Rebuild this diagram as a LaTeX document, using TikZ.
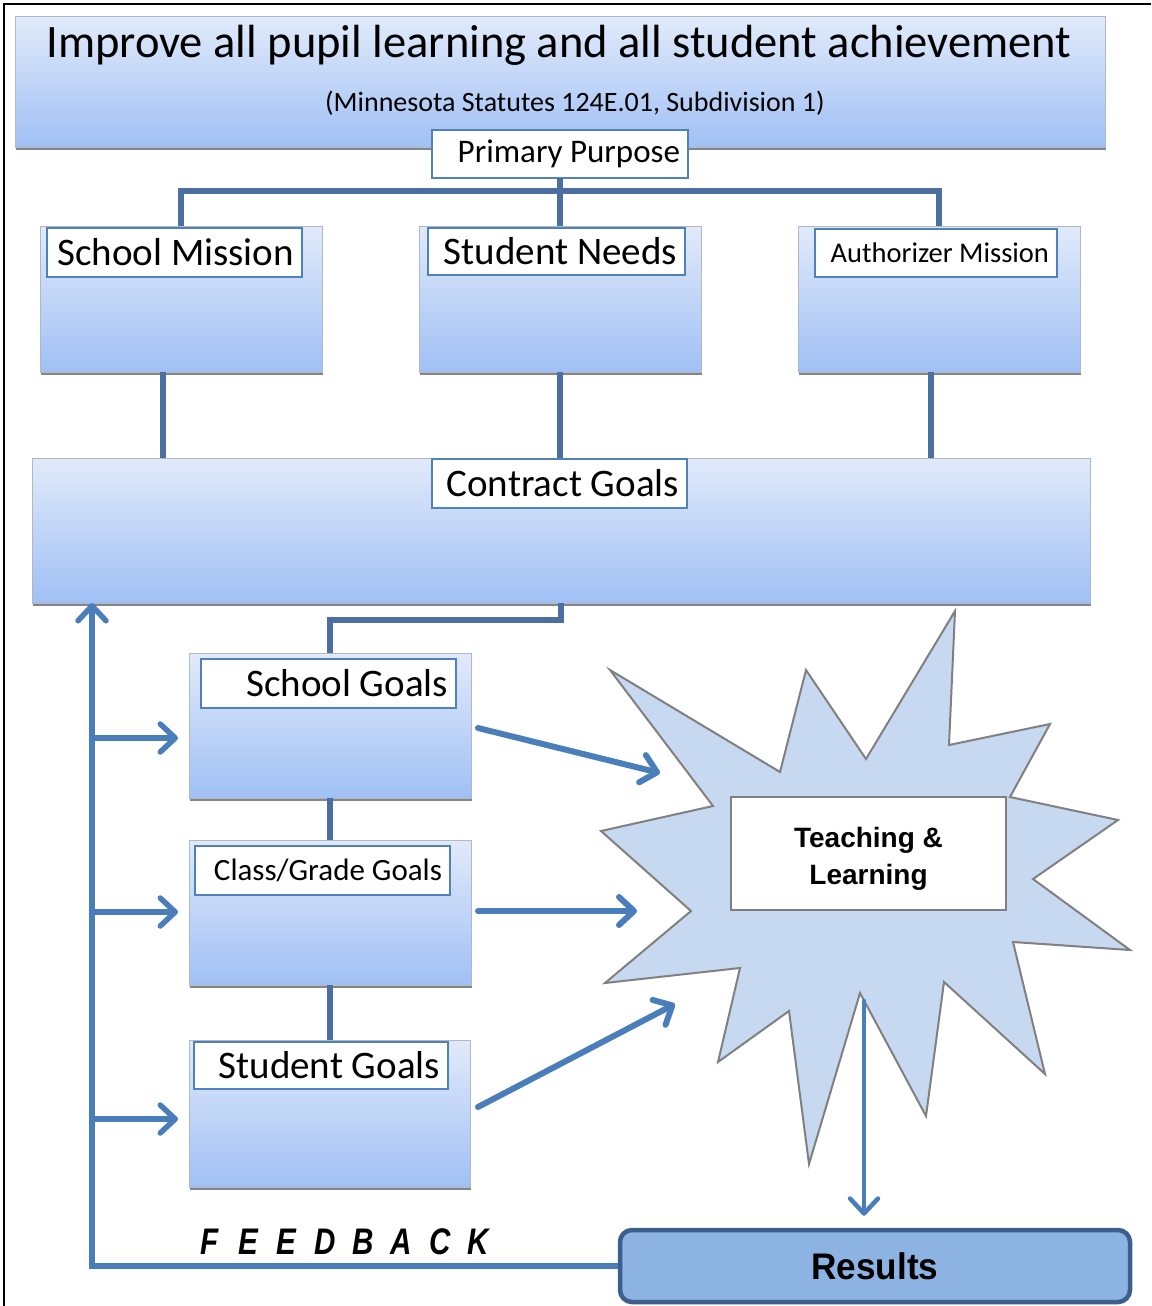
\documentclass[tikz,border=0pt]{standalone}
\usepackage{fontspec}
\setmainfont{Carlito}
\newfontfamily\arialf{Liberation Sans}
\usepackage{graphicx}
\usetikzlibrary{arrows.meta,calc,shadows}
\definecolor{gtop}{RGB}{225,234,250}
\definecolor{gbot}{RGB}{160,192,245}
\definecolor{bedge}{RGB}{176,184,198}
\definecolor{lblue}{RGB}{79,129,189}
\definecolor{connc}{RGB}{74,111,160}
\definecolor{arrc}{RGB}{74,126,187}
\definecolor{starf}{RGB}{198,217,241}
\definecolor{stard}{RGB}{128,128,128}
\definecolor{resf}{RGB}{141,179,226}
\definecolor{resd}{RGB}{61,95,141}
\newcommand{\lbtxt}[2]{\makebox[#1][r]{#2}}
\begin{document}
\begin{tikzpicture}[x=1pt,y=-1pt,
  gbox/.style={draw=bedge, line width=1pt, top color=gtop, bottom color=gbot,
    inner sep=0pt, outer sep=0pt,
    drop shadow={shadow xshift=1pt, shadow yshift=-2.5pt, fill=black!80, opacity=.6}},
  lbl/.style={draw=lblue, line width=2.5pt, fill=white, inner xsep=8pt, inner ysep=0pt,
    outer sep=0pt},
  conn/.style={draw=connc, line width=6pt},
  arr/.style={draw=arrc, line width=6pt, line cap=round,
    -{Straight Barb[length=15pt,width=28pt,round]}},
  big/.style={font=\fontsize{39}{40}\selectfont},
]
\useasboundingbox (0,0) rectangle (1151,1306);
% frame
\draw[black, line width=2pt] (4,1306) -- (4,4) -- (1151,4);

% title
\node[gbox, minimum width=1090pt, minimum height=130pt] (title) at (560,82) {};
\node[font=\fontsize{46.5}{50}\selectfont] (ttext) at (559,45) {Improve all pupil learning and all student achievement};
\node[font=\fontsize{28}{30}\selectfont] (tsub) at (575,103) {(Minnesota Statutes 124E.01, Subdivision 1)};
\node[lbl, minimum height=48pt, font=\fontsize{33}{34}\selectfont] (pp) at (560,154) {\lbtxt{240pt}{Primary Purpose}};

% three boxes
\node[gbox, minimum width=282pt, minimum height=146pt] (sm) at (181,299) {};
\node[gbox, minimum width=282pt, minimum height=146pt] (sn) at (560,299) {};
\node[gbox, minimum width=282pt, minimum height=146pt] (am) at (939,299) {};
\node[lbl, big, minimum height=49pt] (sml) at (174.5,252.5) {\lbtxt{239pt}{School Mission}};
\node[lbl, big, minimum height=47pt] (snl) at (556.5,251.5) {\lbtxt{241pt}{Student Needs}};
\node[lbl, font=\fontsize{28.5}{30}\selectfont, minimum height=48pt] (aml) at (936,253) {\lbtxt{226pt}{Authorizer Mission}};

% contract goals
\node[gbox, minimum width=1058pt, minimum height=145pt] (cg) at (561,530.5) {};
\node[lbl, big, minimum height=49pt] (cgl) at (559.5,483.5) {\lbtxt{239pt}{Contract Goals}};

% goal boxes
\node[gbox, minimum width=282pt, minimum height=145pt] (sg) at (330,725.5) {};
\node[gbox, minimum width=282pt, minimum height=145pt] (cgg) at (330,912.5) {};
\node[gbox, minimum width=281pt, minimum height=147pt] (stg) at (329.5,1113.5) {};
\node[lbl, big, minimum height=49pt] (sgl) at (328.5,683.5) {\lbtxt{239pt}{School Goals}};
\node[lbl, font=\fontsize{31}{32}\selectfont, minimum height=49pt] (cggl) at (322.5,870.5) {\lbtxt{239pt}{Class/Grade Goals}};
\node[lbl, big, minimum height=47pt] (stgl) at (321,1065.5) {\lbtxt{238pt}{Student Goals}};

% connectors top
\coordinate (hb) at ($(pp.south)+(0,13)$);
\draw[conn] (pp.south) -- (sn.north);
\draw[conn] (sm.north) |- (hb) -| (am.north);
\coordinate (d1) at ($(sm.south)+(-18,0)$);
\coordinate (d3) at ($(am.south)+(-8,0)$);
\draw[conn] (d1) -- (d1 |- cg.north);
\draw[conn] (sn.south) -- (sn.south |- cg.north);
\draw[conn] (d3) -- (d3 |- cg.north);
\draw[conn, line width=5.5pt] (cg.south) -- ++(0,17) -| (sg.north);
\draw[conn, line width=5.5pt] (sg.south) -- (cgg.north);
\draw[conn, line width=5.5pt] (cgg.south) -- (cgg.south |- stg.north);

% starburst
\draw[fill=starf, draw=stard, line width=2pt, line join=miter]
  (610,670) -- (780,772) -- (806,670) -- (866,759) -- (955,611) -- (949,745)
  -- (1050,724) -- (1010,797) -- (1118,820) -- (1033,879) -- (1130,950)
  -- (1013,942) -- (1045,1074) -- (944,982) -- (926,1116) -- (860,993)
  -- (809,1164) -- (789,1011) -- (718,1062) -- (740,968) -- (605,983)
  -- (691,911) -- (601,831) -- (713,806) -- cycle;
\node[draw=stard, line width=1.5pt, fill=white, minimum width=275pt, minimum height=113pt,
  inner sep=0pt] (tl) at (868.5,853.5) {};
\node[align=center, inner sep=0pt, font=\arialf\bfseries\fontsize{28}{37}\selectfont] (tlt) at (868.5,859)
  {Teaching \&\\Learning};

% results
\node[draw=resd, fill=resf, line width=4.5pt, rounded corners=12pt, minimum width=510pt,
  minimum height=72pt, inner sep=0pt, font=\arialf\bfseries\fontsize{37}{40}\selectfont] (res) at (875,1266) {\scalebox{0.95}[1]{Results}};

% arrows to star
\coordinate (s1) at (660,773);
\coordinate (s2) at (637,911);
\coordinate (s3) at (675,1004);
\draw[arr] ($(sg.east)+(7,2.5)$) -- (s1);
\draw[arr] ($(cgg.east)+(7,-1.5)$) -- (s2);
\draw[arr] ($(stg.east)+(8,-6.5)$) -- (s3);
\coordinate (s4) at (864,1001);
\draw[arr, line width=4.5pt] (s4) -- ($(s4 |- res.north)+(0,-12)$);

% feedback loop
\coordinate (fbx) at (92,0);
\draw[arr, line width=5.5pt, line cap=butt] (res.west) -| (fbx |- cg.south);
\coordinate (b1) at ($(sg.west)+(-11,12.5)$);
\coordinate (b2) at ($(cgg.west)+(-11,-0.5)$);
\coordinate (b3) at ($(stg.west)+(-11,5.5)$);
\draw[arr, line width=5.5pt, line cap=butt] (fbx |- b1) -- (b1);
\draw[arr, line width=5.5pt, line cap=butt] (fbx |- b2) -- (b2);
\draw[arr, line width=5.5pt, line cap=butt] (fbx |- b3) -- (b3);
\node[font=\arialf\bfseries\itshape\fontsize{37}{40}\selectfont, inner sep=0pt] (fb) at (344,1242)
  {\scalebox{0.8}[1]{\makebox[48pt]{F}\makebox[48pt]{E}\makebox[48pt]{E}\makebox[48pt]{D}\makebox[48pt]{B}\makebox[48pt]{A}\makebox[48pt]{C}\makebox[48pt]{K}}};
\end{tikzpicture}
\end{document}
